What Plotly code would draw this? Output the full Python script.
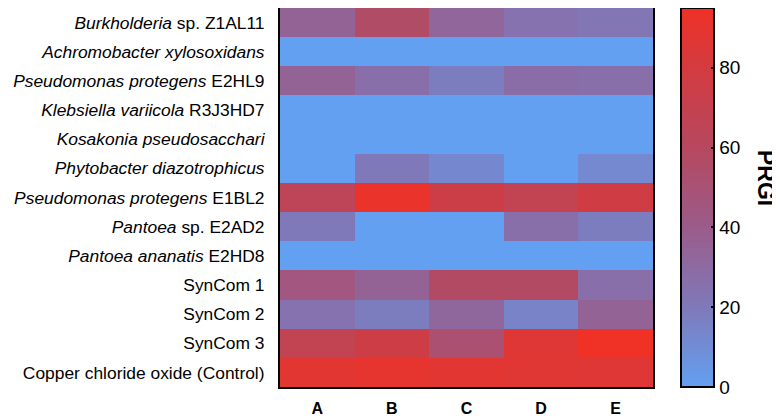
import plotly.graph_objects as go

# 菌株 / 处理
strains = [
    "<i>Burkholderia</i> sp. Z1AL11",
    "<i>Achromobacter xylosoxidans</i>",
    "<i>Pseudomonas protegens</i> E2HL9",
    "<i>Klebsiella variicola</i> R3J3HD7",
    "<i>Kosakonia pseudosacchari</i>",
    "<i>Phytobacter diazotrophicus</i>",
    "<i>Pseudomonas protegens</i> E1BL2",
    "<i>Pantoea</i> sp. E2AD2",
    "<i>Pantoea ananatis</i> E2HD8",
    "SynCom 1",
    "SynCom 2",
    "SynCom 3",
    "Copper chloride oxide (Control)",
]
groups = ["A", "B", "C", "D", "E"]

# PRGI 值（按列读取）
prgi_A = [35, 0, 35, 0, 0, 0, 65, 20, 0, 45, 25, 68, 88]
prgi_B = [56, 0, 27, 0, 0, 20, 92, 0, 0, 35, 18, 76, 90]
prgi_C = [33, 0, 18, 0, 0, 13, 75, 0, 0, 58, 32, 52, 88]
prgi_D = [25, 0, 28, 0, 0, 0, 68, 27, 0, 58, 15, 86, 87]
prgi_E = [22, 0, 27, 0, 0, 12, 78, 18, 0, 27, 35, 96, 86]

cbar_ticks = [0, 20, 40, 60, 80]

z = [list(row) for row in zip(prgi_A, prgi_B, prgi_C, prgi_D, prgi_E)]

colorscale = [
    [0.0, "#63A0F2"],
    [0.21, "#7F79BA"],
    [0.42, "#9A5C8A"],
    [0.63, "#B6485F"],
    [0.84, "#D33B40"],
    [1.0, "#EF3126"],
]

# 页面有 8px 的 body 边距，所以整体左移/上移 8px
OFF = 8
W, H = 780 - OFF, 418 - OFF
L, R, T, B = 280 - OFF, 653 - OFF, 0, 387 - OFF
pw = R - L
ph = B - T

fig = go.Figure()
fig.add_trace(go.Heatmap(
    z=z,
    x=groups,
    y=strains,
    colorscale=colorscale,
    zmin=0,
    zmax=95,
    colorbar=dict(
        x=(681 - OFF - L) / pw, xanchor="left", xpad=0,
        y=0, yanchor="bottom", len=1, lenmode="fraction", ypad=0,
        thickness=33,
        outlinewidth=2, outlinecolor="black",
        tickvals=cbar_ticks,
        ticks="inside", ticklen=4, tickwidth=2, tickcolor="black",
        tickfont=dict(family="Liberation Sans, Arial", size=19, color="black"),
    ),
))

fig.add_annotation(
    text="<b>PRGI</b>", textangle=90,
    x=(766 - OFF - L) / pw, xref="paper", xanchor="center",
    y=(B - (178 - OFF)) / ph, yref="paper", yanchor="middle",
    showarrow=False,
    font=dict(family="Liberation Sans, Arial", size=23, color="black"),
)

fig.update_xaxes(
    showline=True, mirror=True, linecolor="black", linewidth=2,
    ticks="", ticklabelstandoff=6,
    tickfont=dict(family="Liberation Sans, Arial", size=16, color="black", weight="bold"),
)
fig.update_yaxes(
    autorange="reversed",
    showline=True, mirror=True, linecolor="black", linewidth=2,
    ticks="", ticklabelstandoff=10,
    tickfont=dict(family="Liberation Sans, Arial", size=17.4, color="black"),
)

fig.update_layout(
    width=W, height=H,
    margin=dict(l=L, r=W - R, t=T, b=H - B, autoexpand=False),
    paper_bgcolor="white", plot_bgcolor="white",
    font=dict(family="Liberation Sans, Arial", color="black"),
)

fig.write_html("out.html")
